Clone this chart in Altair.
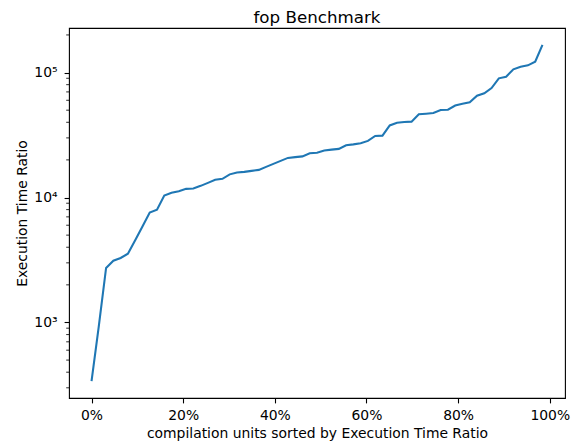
import altair as alt
import pandas as pd

# Execution time ratio per compilation unit (sorted)
ratios = [
    339, 936, 2730, 3120, 3280, 3550, 4540, 5870, 7590, 7980,
    10370, 10900, 11210, 11730, 11800, 12400, 13100, 13850, 14110, 15320,
    15840, 16040, 16340, 16640, 17590, 18590, 19640, 20750, 21060, 21330,
    22630, 22800, 23740, 24180, 24490, 26220, 26610, 27200, 28380, 31100,
    31270, 37740, 39660, 40250, 40470, 46360, 46870, 47480, 50180, 50400,
    54500, 56230, 57810, 65280, 68220, 75170, 89890, 92570, 106070, 111250,
    114150, 121990, 166700,
]
n_units = 63
fractions = [i / n_units for i in range(len(ratios))]

x_ticks = [0.0, 0.2, 0.4, 0.6, 0.8, 1.0]
y_major = [1000, 10000, 100000]
y_minor = [300, 400, 500, 600, 700, 800, 900,
           2000, 3000, 4000, 5000, 6000, 7000, 8000, 9000,
           20000, 30000, 40000, 50000, 60000, 70000, 80000, 90000, 200000]

df = pd.DataFrame({"frac": fractions, "ratio": ratios})
minor_df = pd.DataFrame({"ratio": y_minor})

FONT = "DejaVu Sans"
x_scale = alt.Scale(domain=[-0.0492, 1.0333], nice=False, zero=False)
y_scale = alt.Scale(type="log", domain=[248.6, 227300], nice=False)

y_axis = alt.Axis(values=y_major, title="Execution Time Ratio",
                  labelExpr="datum.value == 1000 ? '10³' : datum.value == 10000 ? '10⁴' : '10⁵'",
                  domain=False, grid=False, tickColor="black", tickWidth=1.1, tickSize=4.9,
                  labelColor="black", labelFont=FONT, labelFontSize=13.9,
                  labelBaseline="middle", labelPadding=7,
                  titleFont=FONT, titleFontSize=13.9, titleFontWeight="normal", titleColor="black",
                  titleBaseline="alphabetic", titleX=-42.5, titleAngle=270)

line = alt.Chart(df).mark_line(color="#1f77b4", strokeWidth=2.08, clip=True).encode(
    x=alt.X("frac:Q", scale=x_scale,
            axis=alt.Axis(values=x_ticks, format=".0%", title="compilation units sorted by Execution Time Ratio",
                          domain=False, grid=False, tickColor="black", tickWidth=1.1, tickSize=4.9,
                          labelColor="black", labelFont=FONT, labelFontSize=13.9,
                          labelBaseline="alphabetic", labelPadding=17, labelFlush=False,
                          titleFont=FONT, titleFontSize=13.9, titleFontWeight="normal", titleColor="black",
                          titleBaseline="alphabetic", titleY=39.5)),
    y=alt.Y("ratio:Q", scale=y_scale, axis=y_axis),
)

minor = alt.Chart(minor_df).mark_rule(color="black", strokeWidth=0.83).encode(
    y=alt.Y("ratio:Q", scale=y_scale, axis=y_axis),
    x=alt.value(-2.8),
    x2=alt.value(0),
)

chart = alt.layer(line, minor).properties(
    width=496,
    height=370,
    title=alt.TitleParams("fop Benchmark", font=FONT, fontSize=16.7, fontWeight="normal", color="black",
                          anchor="middle", offset=1.5, frame="group"),
    autosize=alt.AutoSizeParams(type="none"),
    padding={"left": 61, "top": 20, "right": 9, "bottom": 46},
).configure_view(stroke="black", strokeWidth=1.1)

chart.save("out.html", embed_options={"renderer": "svg", "actions": False})
